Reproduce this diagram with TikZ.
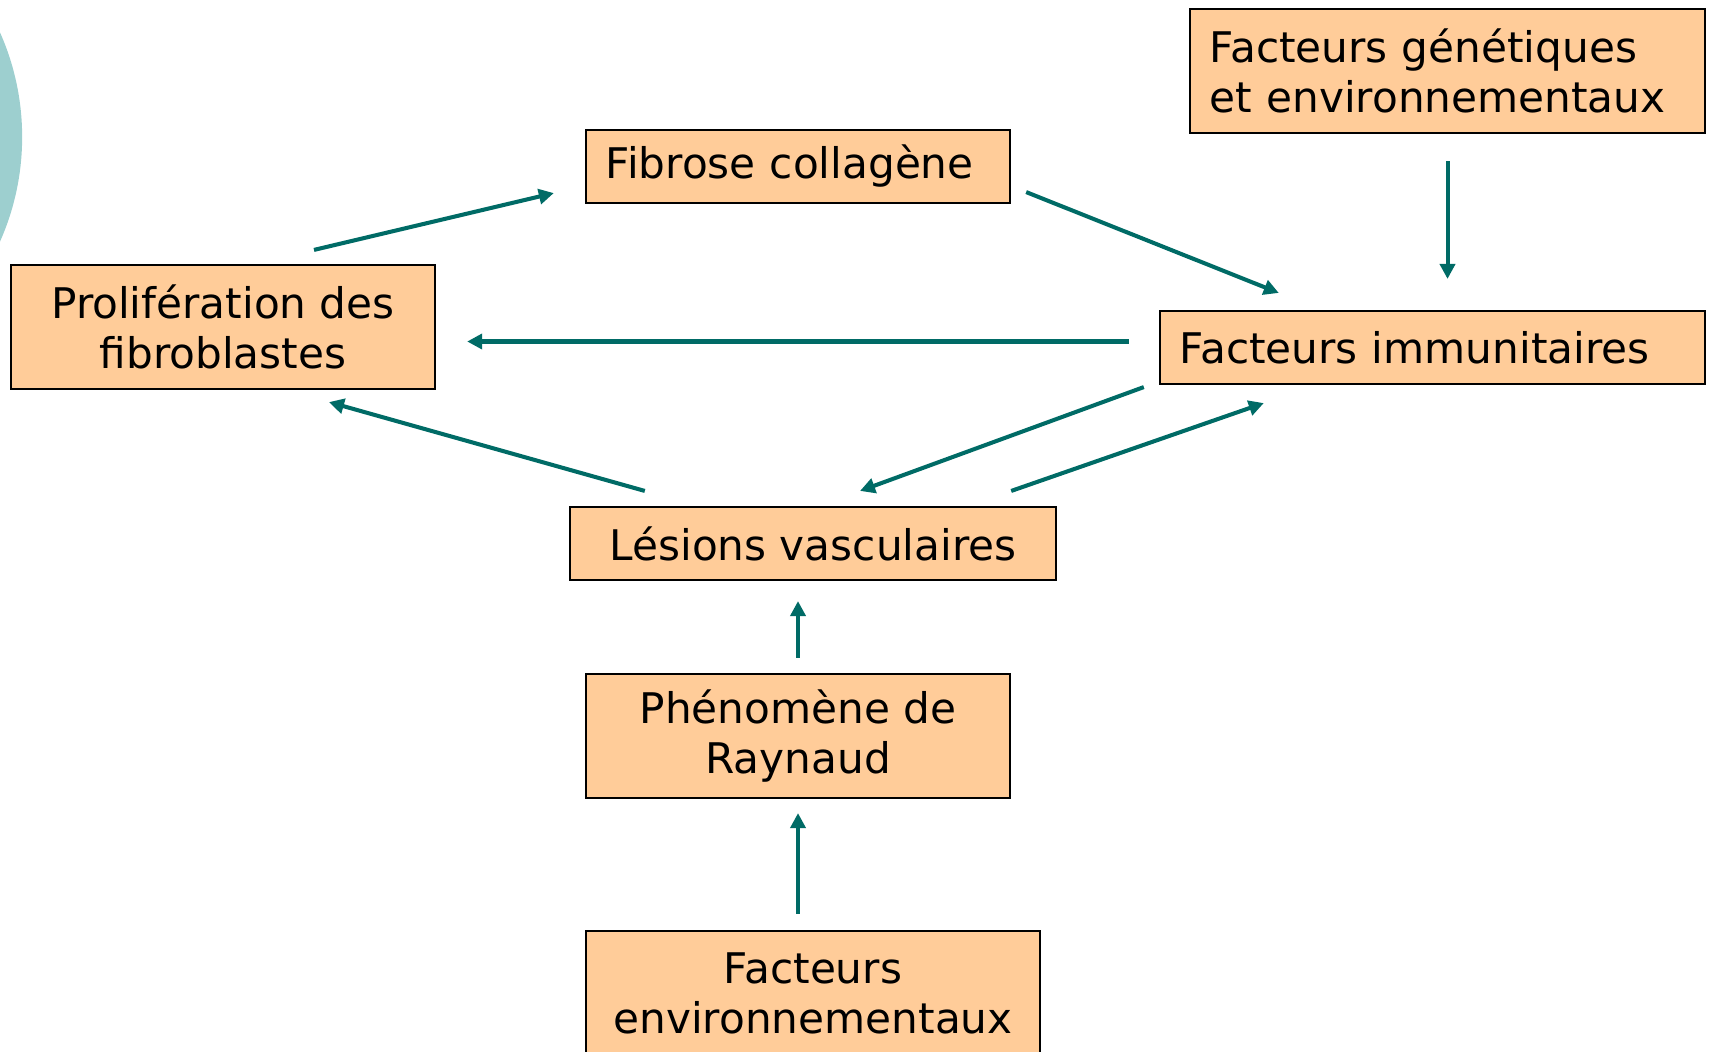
\documentclass[tikz,border=0pt]{standalone}
\usepackage{fontspec}
\setmainfont{DejaVu Sans}
\usepackage{xcolor}
\usetikzlibrary{arrows.meta,calc}
\definecolor{peach}{HTML}{FFCC99}
\definecolor{flowteal}{HTML}{006B66}
\definecolor{disc}{HTML}{9DCFCF}
\begin{document}
\begin{tikzpicture}[x=0.01cm,y=-0.01cm,
    box/.style={draw=black,line width=.6pt,fill=peach,inner xsep=0.2cm,inner ysep=0pt,
      font=\fontsize{12}{14.2}\selectfont},
    cbox/.style={box,align=center},
    lbox/.style={box,align=left},
    flow/.style={draw=flowteal,line width=1.15pt,-{Triangle[length=0.15cm,width=0.15cm]}}]
    \useasboundingbox (0,0) rectangle (1710,1051);
    \clip (0,0) rectangle (1710,1051);
    \fill[disc] (-235,137) circle[radius=2.57cm];
    \node[cbox,minimum width=4.24cm,minimum height=1.24cm] (prolif) at (223,327) {Prolifération des\\fibroblastes};
    \node[lbox,text width=3.84cm,minimum height=0.73cm] (fibrose) at (798,166.5) {Fibrose collagène};
    \node[lbox,text width=4.75cm,minimum height=1.24cm] (genet) at (1447.5,71) {Facteurs génétiques\\et environnementaux};
    \node[lbox,text width=5.05cm,minimum height=0.73cm] (immun) at (1432.5,347.5) {Facteurs immunitaires};
    \node[cbox,minimum width=4.86cm,minimum height=0.73cm] (lesions) at (813,543.5) {Lésions vasculaires};
    \node[cbox,minimum width=4.24cm,minimum height=1.24cm] (raynaud) at (798,736) {Phénomène de\\Raynaud};
    \node[cbox,minimum width=4.54cm,minimum height=1.24cm] (env) at (813,993) {Facteurs\\environnementaux};
    \draw[flow] ($(prolif.north)+(91,-14)$) -- ($(fibrose.south west)+(-31,-11)$);
    \draw[flow] ($(fibrose.south east)+(15,-12)$) -- ($(immun.north west)+(120,-17)$);
    \draw[flow] ($(genet.south)+(0,27)$) -- ($(genet.south |- immun.north)+(0,-31)$);
    \draw[flow] ($(immun.west)+(-30,-6)$) -- ($(prolif.east |- immun.west)+(31,-6)$);
    \draw[flow] ($(immun.south west)+(-15,2)$) -- ($(lesions.north)+(47,-15)$);
    \draw[flow] ($(lesions.north east)+(-46,-15)$) -- ($(immun.south west)+(105,18)$);
    \draw[flow] ($(lesions.north west)+(76,-15)$) -- ($(prolif.south)+(106,12)$);
    \draw[flow] ($(raynaud.north)+(0,-15)$) -- ($(raynaud.north |- lesions.south)+(0,20)$);
    \draw[flow] ($(raynaud.south |- env.north)+(0,-16)$) -- ($(raynaud.south)+(0,14)$);
\end{tikzpicture}
\end{document}
